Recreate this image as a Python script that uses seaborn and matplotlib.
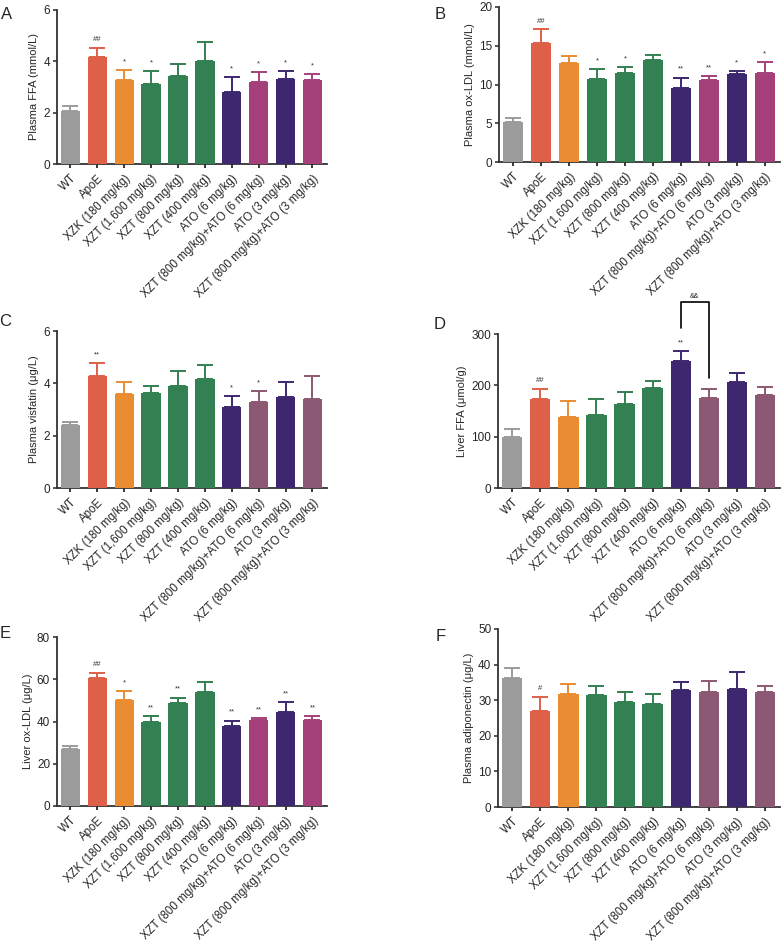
import numpy as np
import pandas as pd
import seaborn as sns
import matplotlib.pyplot as plt

groups = ['WT', 'ApoE', 'XZK (180 mg/kg)', 'XZT (1,600 mg/kg)', 'XZT (800 mg/kg)',
          'XZT (400 mg/kg)', 'ATO (6 mg/kg)', 'XZT (800 mg/kg)+ATO (6 mg/kg)',
          'ATO (3 mg/kg)', 'XZT (800 mg/kg)+ATO (3 mg/kg)']

# A - plasma FFA
plasma_ffa = [2.05, 4.16, 3.29, 3.12, 3.44, 4.00, 2.80, 3.20, 3.30, 3.26]
plasma_ffa_err = [0.22, 0.37, 0.39, 0.49, 0.45, 0.77, 0.60, 0.39, 0.34, 0.24]
plasma_ffa_sig = ['', '##', '*', '*', '', '', '*', '*', '*', '*']

# B - plasma ox-LDL
plasma_oxldl = [5.1, 15.3, 12.8, 10.75, 11.5, 13.2, 9.6, 10.6, 11.3, 11.5]
plasma_oxldl_err = [0.55, 1.8, 0.9, 1.25, 0.7, 0.55, 1.3, 0.5, 0.4, 1.4]
plasma_oxldl_sig = ['', '##', '', '*', '*', '', '**', '**', '*', '*']

# C - plasma visfatin
plasma_visfatin = [2.39, 4.28, 3.59, 3.65, 3.90, 4.17, 3.11, 3.30, 3.46, 3.41]
plasma_visfatin_err = [0.15, 0.50, 0.45, 0.25, 0.57, 0.54, 0.42, 0.40, 0.58, 0.89]
plasma_visfatin_sig = ['', '**', '', '', '', '', '*', '*', '', '']

# D - liver FFA
liver_ffa = [100, 174, 139, 143, 163, 194, 248, 176, 207, 181]
liver_ffa_err = [15, 19, 31, 30, 24, 15, 19, 16, 17, 16]
liver_ffa_sig = ['', '##', '', '', '', '', '**', '', '', '']

# E - liver ox-LDL
liver_oxldl = [26.8, 60.6, 50.2, 39.6, 48.6, 53.9, 37.9, 40.5, 44.6, 40.9]
liver_oxldl_err = [1.4, 2.5, 4.1, 3.0, 2.7, 4.9, 2.5, 1.1, 4.5, 1.7]
liver_oxldl_sig = ['', '##', '*', '**', '**', '', '**', '**', '**', '**']

# F - plasma adiponectin
adiponectin = [36.1, 26.9, 31.6, 31.4, 29.5, 29.0, 32.8, 32.2, 33.0, 32.3]
adiponectin_err = [2.9, 3.9, 2.9, 2.7, 2.8, 2.7, 2.4, 3.1, 4.9, 1.8]
adiponectin_sig = ['', '#', '', '', '', '', '', '', '', '']

gray, red, orange, green, purple = '#9b9b9b', '#df6048', '#e98c32', '#338052', '#3d2870'
magenta, mauve = '#a5407a', '#8c5873'


def palette(combo):
    return [gray, red, orange, green, green, green, purple, combo, purple, combo]


panels = [
    ('A', plasma_ffa, plasma_ffa_err, plasma_ffa_sig, 'Plasma FFA (mmol/L)', [0, 2, 4, 6], magenta,
     [0.073, 0.8257, 0.346, 0.1637], (0.009, 0.985)),
    ('B', plasma_oxldl, plasma_oxldl_err, plasma_oxldl_sig, 'Plasma ox-LDL (mmol/L)', [0, 5, 10, 15, 20], magenta,
     [0.639, 0.8278, 0.36, 0.1648], (0.563, 0.985)),
    ('C', plasma_visfatin, plasma_visfatin_err, plasma_visfatin_sig, 'Plasma visfatin (μg/L)', [0, 2, 4, 6], mauve,
     [0.073, 0.4814, 0.346, 0.1668], (0.007, 0.658)),
    ('D', liver_ffa, liver_ffa_err, liver_ffa_sig, 'Liver FFA (μmol/g)', [0, 100, 200, 300], mauve,
     [0.638, 0.4814, 0.361, 0.1636], (0.563, 0.655)),
    ('E', liver_oxldl, liver_oxldl_err, liver_oxldl_sig, 'Liver ox-LDL (μg/L)', [0, 20, 40, 60, 80], magenta,
     [0.073, 0.1435, 0.346, 0.1795], (0.007, 0.327)),
    ('F', adiponectin, adiponectin_err, adiponectin_sig, 'Plasma adiponectin (μg/L)', [0, 10, 20, 30, 40, 50], mauve,
     [0.638, 0.1424, 0.361, 0.1892], (0.564, 0.324)),
]

sns.set_style('ticks')
plt.rcParams['font.family'] = ['Liberation Sans', 'DejaVu Sans']

fig = plt.figure(figsize=(7.81, 9.41), dpi=100)

for letter, vals, errs, sig, ylabel, yticks, combo, rect, lpos in panels:
    ax = fig.add_axes(rect)
    cols = palette(combo)
    df = pd.DataFrame({'group': groups, 'value': vals})
    sns.barplot(data=df, x='group', y='value', hue='group', palette=cols, order=groups,
                width=0.72, errorbar=None, legend=False, ax=ax, saturation=1,
                edgecolor='none', zorder=3)
    ymax = yticks[-1]
    for i, (v, e) in enumerate(zip(vals, errs)):
        ax.errorbar(i, v, yerr=[[0], [e]], fmt='none', ecolor=cols[i], elinewidth=1.4,
                    capsize=5.5, capthick=1.4, zorder=2)
        if sig[i]:
            ax.text(i, v + e + ymax * 0.03, sig[i], ha='center', va='bottom', fontsize=5.5,
                    color='#333333')
    ax.set_ylim(0, ymax)
    ax.set_yticks(yticks)
    ax.set_xlim(-0.5, 9.55)
    ax.set_xlabel('')
    ax.set_ylabel(ylabel, fontsize=8, labelpad=3)
    ax.set_xticks(range(len(groups)))
    ax.set_xticklabels(groups, rotation=45, ha='right', rotation_mode='anchor', fontsize=8.3)
    ax.tick_params(axis='y', labelsize=8.5, length=3, width=1.1, pad=2)
    ax.tick_params(axis='x', length=3, width=1.3, pad=3)
    for s in ['left', 'bottom']:
        ax.spines[s].set_linewidth(1.3)
        ax.spines[s].set_color('#333333')
    sns.despine(ax=ax)
    fig.text(lpos[0], lpos[1], letter, fontsize=12, ha='center', va='center')

    if letter == 'D':
        ax.plot([6, 6, 7, 7], [312, 362, 362, 214], color='black', lw=1.2, clip_on=False)
        ax.text(6.5, 366, '&&', ha='center', va='bottom', fontsize=5, clip_on=False)

fig.savefig('out.png', dpi=100)
